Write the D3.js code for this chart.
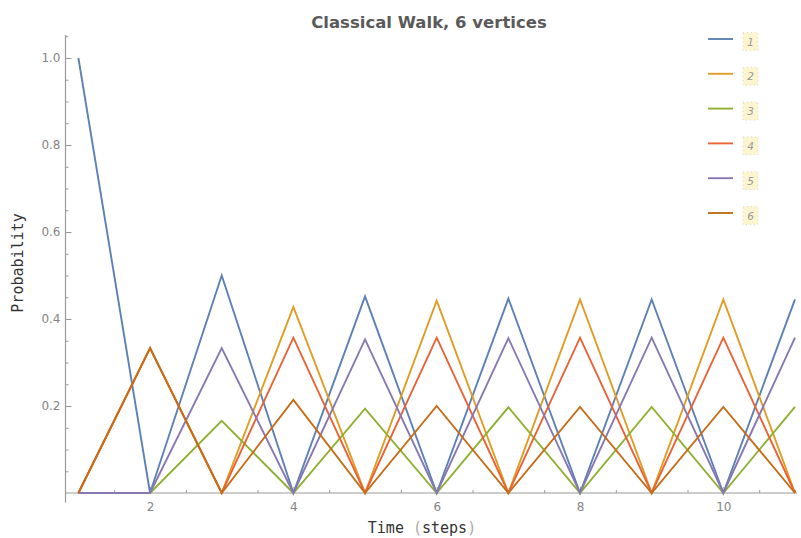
<!DOCTYPE html>
<html>
<head>
<meta charset="utf-8">
<script src="https://cdn.jsdelivr.net/npm/d3@7"></script>
<style>
  body { margin: 0; background: #fff; }
  svg { display: block; }
</style>
</head>
<body>
<div id="chart"></div>
<script>
// data
var steps = [1, 2, 3, 4, 5, 6, 7, 8, 9, 10, 11];
var p1 = [1, 0, 0.5, 0, 0.452, 0, 0.447, 0, 0.445, 0, 0.445];
var p2 = [0, 0.333, 0, 0.428, 0, 0.442, 0, 0.445, 0, 0.445, 0];
var p3 = [0, 0, 0.166, 0, 0.194, 0, 0.197, 0, 0.198, 0, 0.198];
var p4 = [0, 0.333, 0, 0.357, 0, 0.357, 0, 0.357, 0, 0.357, 0];
var p5 = [0, 0, 0.333, 0, 0.353, 0, 0.356, 0, 0.357, 0, 0.357];
var p6 = [0, 0.333, 0, 0.214, 0, 0.2, 0, 0.198, 0, 0.198, 0];
var seriesNames = ["1", "2", "3", "4", "5", "6"];
var colors = ["#5E81B5", "#E19C24", "#8FB032", "#EB6235", "#8778B3", "#C56E1A"];
var xTicks = [2, 4, 6, 8, 10];
var yTicks = [0.2, 0.4, 0.6, 0.8, 1.0];

var width = 801, height = 538;

var xScale = d3.scaleLinear().domain([1, 11]).range([78.4, 795]);
var yScale = d3.scaleLinear().domain([0, 1]).range([493, 58]);

var svg = d3.select("#chart").append("svg")
    .attr("width", width)
    .attr("height", height);

var axisColor = "#9a9a9a";
var tickText = "#858585";

// axis lines (Mathematica style, crossing a bit left of t = 1)
var x0 = xScale(0.82);
svg.append("line")
    .attr("x1", x0).attr("x2", x0)
    .attr("y1", yScale(-0.022)).attr("y2", yScale(1.053))
    .attr("stroke", axisColor).attr("stroke-width", 1.2);
svg.append("line")
    .attr("x1", x0).attr("x2", xScale(11.03))
    .attr("y1", yScale(0)).attr("y2", yScale(0))
    .attr("stroke", axisColor).attr("stroke-width", 1.2);

// y axis: major ticks + labels, minor ticks
var yMinor = d3.range(0.05, 1.06, 0.05).filter(function(d) {
    return Math.abs(d * 5 - Math.round(d * 5)) > 1e-6;
});
var gy = svg.append("g").attr("transform", "translate(" + x0 + ",0)");
gy.call(d3.axisLeft(yScale).tickValues(yTicks).tickSize(-6).tickPadding(5)
    .tickFormat(d3.format(".1f")));
var gyMinor = svg.append("g").attr("transform", "translate(" + x0 + ",0)");
gyMinor.call(d3.axisLeft(yScale).tickValues(yMinor).tickSize(-3).tickFormat(""));

// x axis
var xMinor = d3.range(1.5, 11.01, 0.5).filter(function(d) { return xTicks.indexOf(d) < 0; });
var gx = svg.append("g").attr("transform", "translate(0," + yScale(0) + ")");
gx.call(d3.axisBottom(xScale).tickValues(xTicks).tickSize(-6).tickPadding(9));
var gxMinor = svg.append("g").attr("transform", "translate(0," + yScale(0) + ")");
gxMinor.call(d3.axisBottom(xScale).tickValues(xMinor).tickSize(-3).tickFormat(""));

svg.selectAll(".domain").remove();
svg.selectAll(".tick line").attr("stroke", axisColor).attr("stroke-width", 1);
svg.selectAll(".tick text")
    .attr("fill", tickText)
    .style("font-family", "'DejaVu Sans', sans-serif")
    .style("font-size", "12px");

// lines
var allSeries = [p1, p2, p3, p4, p5, p6];
var line = d3.line()
    .x(function(d, i) { return xScale(steps[i]); })
    .y(function(d) { return yScale(d); });

svg.selectAll("path.series")
    .data(allSeries)
    .enter().append("path")
    .attr("class", "series")
    .attr("d", line)
    .attr("fill", "none")
    .attr("stroke", function(d, i) { return colors[i]; })
    .attr("stroke-width", 1.9)
    .attr("stroke-linejoin", "miter");

// title
svg.append("text")
    .attr("x", 429)
    .attr("y", 27.5)
    .attr("text-anchor", "middle")
    .style("font-family", "'DejaVu Sans', sans-serif")
    .style("font-weight", "bold")
    .style("font-size", "16.5px")
    .attr("fill", "#5a5a5a")
    .text("Classical Walk, 6 vertices");

// axis labels (monospace, lighter parentheses)
var xLab = svg.append("text")
    .attr("x", 422)
    .attr("y", 533)
    .attr("text-anchor", "middle")
    .style("font-family", "'DejaVu Sans Mono', monospace")
    .style("font-size", "15px")
    .attr("fill", "#333");
xLab.append("tspan").text("Time ");
xLab.append("tspan").attr("fill", "#aaa").text("(");
xLab.append("tspan").text("steps");
xLab.append("tspan").attr("fill", "#aaa").text(")");

svg.append("text")
    .attr("transform", "translate(23,263) rotate(-90)")
    .attr("text-anchor", "middle")
    .style("font-family", "'DejaVu Sans Mono', monospace")
    .style("font-size", "15px")
    .attr("fill", "#333")
    .text("Probability");

// legend
var legend = svg.append("g").attr("transform", "translate(708,39)");
var item = legend.selectAll("g.item")
    .data(seriesNames)
    .enter().append("g")
    .attr("class", "item")
    .attr("transform", function(d, i) { return "translate(0," + (i * 34.8) + ")"; });

item.append("line")
    .attr("x1", 0).attr("x2", 25)
    .attr("y1", 0).attr("y2", 0)
    .attr("stroke", function(d, i) { return colors[i]; })
    .attr("stroke-width", 1.9);

item.append("rect")
    .attr("x", 35).attr("y", -6.5)
    .attr("width", 15).attr("height", 18)
    .attr("fill", "#fdf5cf")
    .attr("stroke", "#cfcfcf")
    .attr("stroke-width", 0.8)
    .attr("stroke-dasharray", "1,3");

item.append("text")
    .attr("x", 42.5).attr("y", 6.5)
    .attr("text-anchor", "middle")
    .style("font-family", "'DejaVu Sans', sans-serif")
    .style("font-style", "italic")
    .style("font-size", "10.5px")
    .attr("fill", "#999")
    .text(function(d) { return d; });
</script>
</body>
</html>
